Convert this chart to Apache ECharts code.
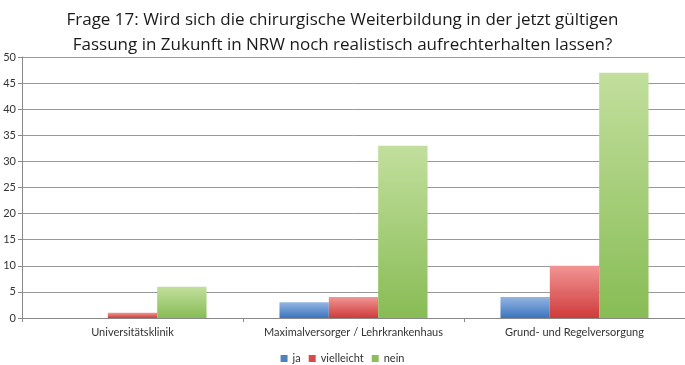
<!DOCTYPE html>
<html><head><meta charset="utf-8">
<script src="https://cdn.jsdelivr.net/npm/echarts@6/dist/echarts.min.js"></script>
<style>html,body{margin:0;padding:0;background:#fff}#c{width:685px;height:365px}</style>
</head><body><div id="c"></div>
<script>
const categories = ['Universitätsklinik', 'Maximalversorger / Lehrkrankenhaus', 'Grund- und Regelversorgung'];
const seriesNames = ['ja', 'vielleicht', 'nein'];
const jaValues = [0, 3, 4];
const vielleichtValues = [1, 4, 10];
const neinValues = [6, 33, 47];
const yTicks = [0, 5, 10, 15, 20, 25, 30, 35, 40, 45, 50];
const titleText = 'Frage 17: Wird sich die chirurgische Weiterbildung in der jetzt gültigen\nFassung in Zukunft in NRW noch realistisch aufrechterhalten lassen?';

function grad(top, bottom) {
  return new echarts.graphic.LinearGradient(0, 0, 0, 1, [{offset: 0, color: top}, {offset: 1, color: bottom}]);
}
const fills = [grad('#93B5E2', '#3C74BE'), grad('#F19594', '#CF3B3B'), grad('#C2DF9D', '#88BC55')];
const legendColors = ['#4F81BD', '#D9494A', '#8CBE5A'];
const data = [jaValues, vielleichtValues, neinValues];

const chart = echarts.init(document.getElementById('c'), null, {renderer: 'canvas'});
chart.setOption({
  animation: false,
  backgroundColor: '#fff',
  textStyle: {fontFamily: 'Lato, "Open Sans", sans-serif'},
  title: {
    text: titleText, left: 'center', top: 3,
    textStyle: {fontSize: 17, fontWeight: 'normal', color: '#1a1a1a', lineHeight: 25, fontFamily: '"Open Sans", sans-serif'}
  },
  legend: {
    bottom: 1, left: 'center', padding: [0, 5], itemWidth: 7, itemHeight: 7, itemGap: 8,
    textStyle: {fontSize: 11, color: '#333'},
    data: seriesNames.map((n, i) => ({name: n, icon: 'rect', itemStyle: {color: legendColors[i]}}))
  },
  grid: {left: 22, right: -1, top: 57, bottom: 47, containLabel: false},
  xAxis: {
    type: 'category', data: categories,
    axisLine: {lineStyle: {color: '#888'}},
    axisTick: {show: true, length: 4, lineStyle: {color: '#888'}},
    axisLabel: {fontSize: 11, color: '#333', margin: 9, interval: 0}
  },
  yAxis: {
    type: 'value', min: 0, max: 50, interval: 5,
    axisLine: {show: true, lineStyle: {color: '#888'}},
    axisTick: {show: true, length: 4, lineStyle: {color: '#888'}},
    axisLabel: {fontSize: 11, color: '#333', margin: 6, formatter: v => yTicks.includes(v) ? String(v) : ''},
    splitLine: {lineStyle: {color: '#999', width: 1}}
  },
  series: seriesNames.map((n, i) => ({
    name: n, type: 'bar', data: data[i],
    barGap: '0%', barCategoryGap: '33%',
    itemStyle: {color: fills[i]}
  }))
});
</script></body></html>
